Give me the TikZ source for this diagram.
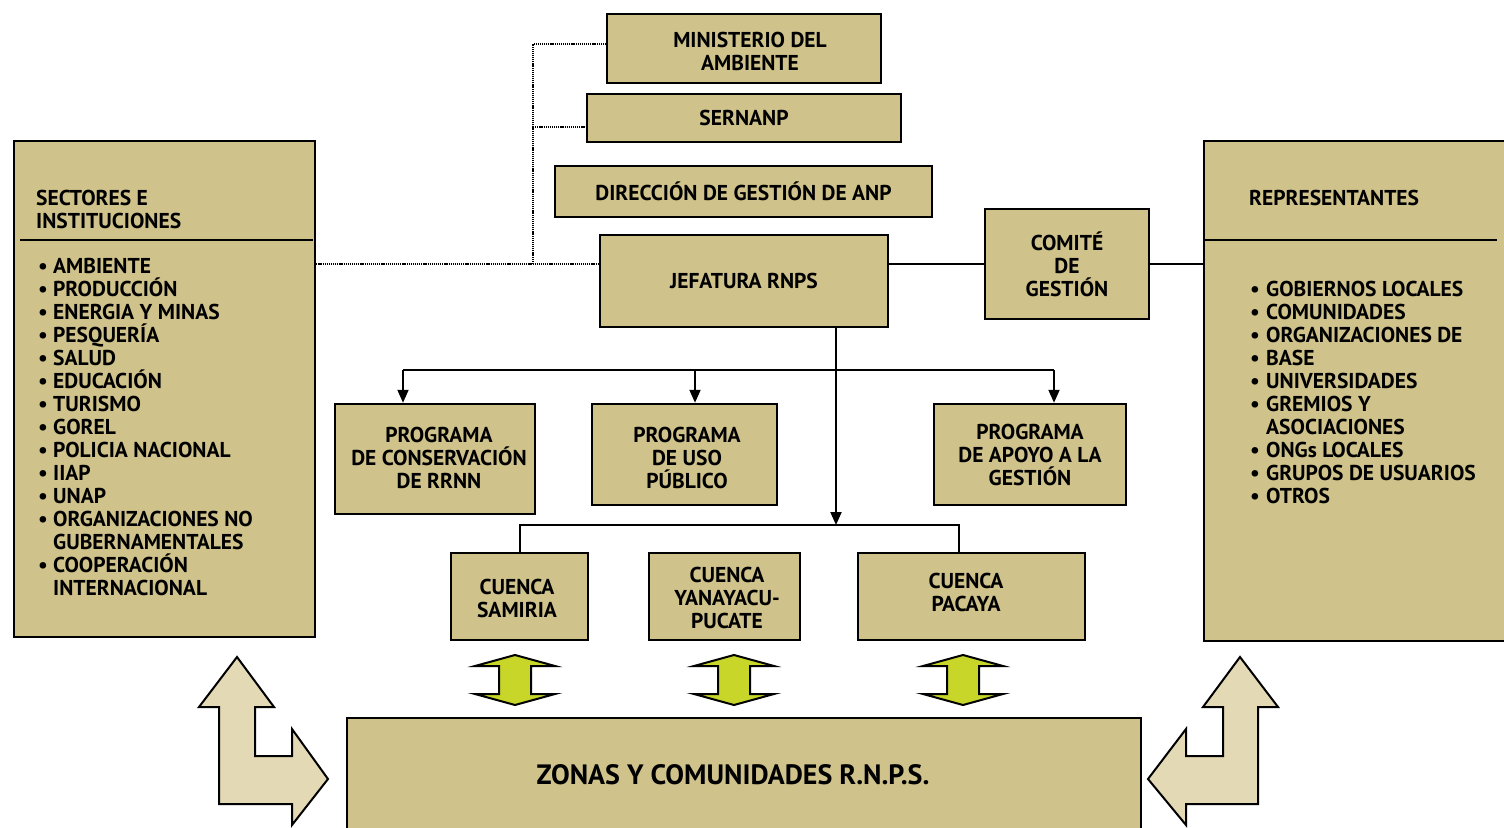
\documentclass[tikz,border=0pt]{standalone}
\usepackage{fontspec}
\setmainfont{PT Sans}
\usetikzlibrary{arrows.meta,calc}
\definecolor{boxfill}{RGB}{207,194,138}
\definecolor{bentfill}{RGB}{227,217,180}
\definecolor{greenfill}{RGB}{200,214,42}
\newcommand\fs{\fontsize{21.5}{23}\selectfont\bfseries}
\newcommand\bl{\makebox[15pt][l]{•}}
\newcommand\blr{\makebox[16pt][l]{•}}
\newcommand\ind{\hspace*{15pt}}
\begin{document}
\begin{tikzpicture}[x=1pt,y=-1pt,
  box/.style={draw, line width=2.5pt, fill=boxfill, inner sep=0pt, align=center, font=\fs},
  txt/.style={inner sep=0pt, align=left, font=\fs},
  conn/.style={line width=2pt},
  thinconn/.style={line width=1.3pt},
  dotconn/.style={line width=2pt, dash pattern=on 1.2pt off 0.9pt},
  arr/.style={line width=2pt, -{Triangle[length=13pt,width=11pt]}},
  bent/.style={draw, line width=2pt, fill=bentfill, line join=miter},
  dbl/.style={draw, line width=2pt, fill=greenfill, line join=miter}]
\useasboundingbox (0,0) rectangle (1504,827);
\fill[white] (0,0) rectangle (1504,827);
\clip (0,0) rectangle (1504,827);

% top hierarchy
\node[box, minimum width=274pt, minimum height=69pt] (min) at (744,48.5) {};
\node[txt, align=center] (mint) at (750,51.5) {MINISTERIO DEL\\AMBIENTE};
\node[box, minimum width=314pt, minimum height=48pt] (ser) at (744,118) {SERNANP};
\node[box, minimum width=377pt, minimum height=51pt] (dir) at (743.5,191.5) {DIRECCIÓN DE GESTIÓN DE ANP};
\node[box, minimum width=288pt, minimum height=92pt] (jef) at (744,281) {JEFATURA RNPS};
\node[box, minimum width=164pt, minimum height=110pt] (com) at (1067,264) {COMITÉ\\DE\\GESTIÓN};

% side boxes
\node[box, minimum width=301pt, minimum height=496pt] (left) at (164.5,389) {};
\node[box, minimum width=306pt, minimum height=500pt] (right) at (1357,391) {};
\draw[conn] (20,240) -- (313,240);
\draw[conn] (1204,240) -- (1497,240);
\node[txt, anchor=north west] (lt) at (36,190) {SECTORES E\\INSTITUCIONES};
\node[txt, anchor=north west] (ll) at (38,258) {\bl AMBIENTE\\\bl PRODUCCIÓN\\\bl ENERGIA Y MINAS\\\bl PESQUERÍA\\\bl SALUD\\\bl EDUCACIÓN\\\bl TURISMO\\\bl GOREL\\\bl POLICIA NACIONAL\\\bl IIAP\\\bl UNAP\\\bl ORGANIZACIONES NO\\\ind GUBERNAMENTALES\\\bl COOPERACIÓN\\\ind INTERNACIONAL};
\node[txt, anchor=north west] (rt) at (1249,190) {REPRESENTANTES};
\node[txt, anchor=north west] (rl) at (1250,281) {\blr GOBIERNOS LOCALES\\\blr COMUNIDADES\\\blr ORGANIZACIONES DE\\\blr BASE\\\blr UNIVERSIDADES\\\blr GREMIOS Y\\\hspace*{16pt}ASOCIACIONES\\\blr ONGs LOCALES\\\blr GRUPOS DE USUARIOS\\\blr OTROS};

% programs
\node[box, minimum width=200pt, minimum height=110pt] (p1) at (435,459) {};
\node[txt, align=center] (p1t) at (439,458) {PROGRAMA\\DE CONSERVACIÓN\\DE RRNN};
\node[box, minimum width=185pt, minimum height=101pt] (p2) at (684.5,454.5) {};
\node[txt, align=center] (p2t) at (687,458) {PROGRAMA\\DE USO\\PÚBLICO};
\node[box, minimum width=192pt, minimum height=101pt] (p3) at (1030,454.5) {PROGRAMA\\DE APOYO A LA\\GESTIÓN};

% cuencas
\node[box, minimum width=137pt, minimum height=87pt] (c1) at (519.5,596.5) {};
\node[txt, align=center] (c1t) at (517,598) {CUENCA\\SAMIRIA};
\node[box, minimum width=151pt, minimum height=87pt] (c2) at (724.5,596.5) {};
\node[txt, align=center] (c2t) at (727,598) {CUENCA\\YANAYACU-\\PUCATE};
\node[box, minimum width=227pt, minimum height=87pt] (c3) at (971.5,596.5) {};
\node[txt, align=center] (c3t) at (966,592) {CUENCA\\PACAYA};

% zonas
\node[box, minimum width=794pt, minimum height=122pt] (zon) at (744,779) {};
\node[txt, font=\fontsize{28}{30}\selectfont\bfseries] (zont) at (733,775) {ZONAS Y COMUNIDADES R.N.P.S.};

% connectors
\coordinate (dx) at (533,264);
\coordinate (d1) at (533,44);
\coordinate (d2) at (533,127);
\draw[dotconn] (left.east |- com) -- (jef.west |- com);
\draw[dotconn] (dx) -- (d1) -- (min.west |- d1);
\draw[dotconn] (d2) -- (ser.west |- d2);
\draw[conn] (jef.east |- com) -- (com.west);
\draw[conn] (com.east) -- (right.west |- com);

\coordinate (xv) at (836,0);
\coordinate (hb) at (836,525);
\draw[arr] (jef.south -| xv) -- (hb);
\coordinate (b1) at (403,370);
\coordinate (b2) at (695,370);
\coordinate (b3) at (1054,370);
\draw[conn] (b1) -- (b3);
\draw[arr] (b1) -- (b1 |- p1.north);
\draw[arr] (b2) -- (b2 |- p2.north);
\draw[arr] (b3) -- (b3 |- p3.north);
\coordinate (k1) at (520,525);
\coordinate (k3) at (959,525);
\draw[thinconn] (k1 |- c1.north) -- (k1) -- (k3) -- (k3 |- c3.north);

% green double arrows
\foreach \cx in {515,734,963}{
  \draw[dbl] (\cx,655) -- (\cx+40,666) -- (\cx+16,666) -- (\cx+16,694) -- (\cx+40,694)
    -- (\cx,705) -- (\cx-40,694) -- (\cx-16,694) -- (\cx-16,666) -- (\cx-40,666) -- cycle;
}

% bent arrows
\draw[bent] (237,657) -- (274,707) -- (255,707) -- (255,756) -- (292,756) -- (292,729)
  -- (328,779) -- (292,825) -- (292,804) -- (219,804) -- (219,707) -- (199,707) -- cycle;
\draw[bent] (1240,657) -- (1278,707) -- (1258,707) -- (1258,804) -- (1186,804) -- (1186,825)
  -- (1148,779) -- (1186,729) -- (1186,756) -- (1223,756) -- (1223,707) -- (1203,707) -- cycle;
\end{tikzpicture}
\end{document}
